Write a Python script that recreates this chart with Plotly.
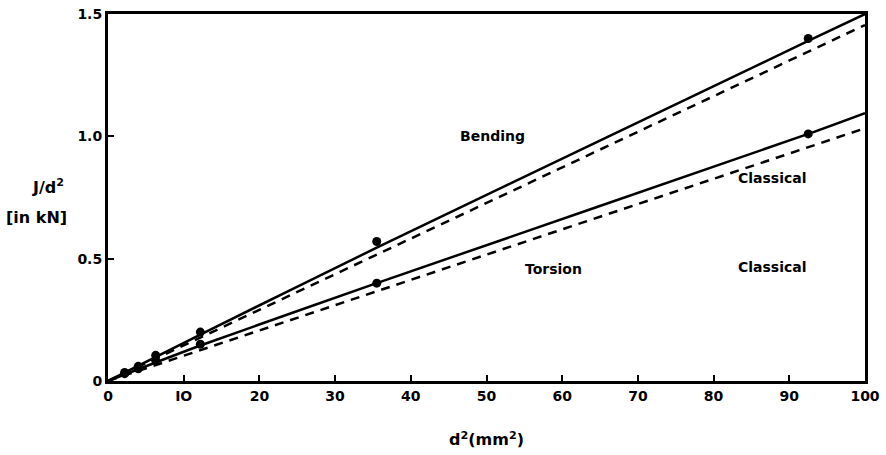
import plotly.graph_objects as go

# Measured points (d^2 in mm^2, J/d^2 in kN)
d2_points = [2.2, 4.0, 6.3, 12.2, 35.5, 92.5]
bending_pts = [0.035, 0.06, 0.105, 0.20, 0.57, 1.40]
torsion_pts = [0.03, 0.05, 0.085, 0.15, 0.40, 1.01]

# Fitted solid curves
fit_x = [0, 12.2, 35.5, 92.5, 100]
bending_fit = [0, 0.19, 0.545, 1.39, 1.50]
torsion_fit = [0, 0.145, 0.40, 1.01, 1.095]

# Classical (dashed) lines
classical_x = [0, 100]
bending_classical = [0, 1.455]
torsion_classical = [0, 1.033]

x_ticks = [0, 10, 20, 30, 40, 50, 60, 70, 80, 90, 100]
x_ticklabels = ["0", "IO", "20", "30", "40", "50", "60", "70", "80", "90", "100"]
y_ticks = [0, 0.5, 1.0, 1.5]
y_ticklabels = ["0", "0.5", "1.0", "1.5"]

FONT = "DejaVu Sans"
fig = go.Figure()

for y in (bending_fit, torsion_fit):
    fig.add_trace(go.Scatter(x=fit_x, y=y, mode="lines", line=dict(color="black", width=2.5, shape="spline", smoothing=0.6),
                             showlegend=False, hoverinfo="skip"))
for y in (bending_classical, torsion_classical):
    fig.add_trace(go.Scatter(x=classical_x, y=y, mode="lines", line=dict(color="black", width=2.5, dash="9px,7px"),
                             showlegend=False, hoverinfo="skip"))
for y in (bending_pts, torsion_pts):
    fig.add_trace(go.Scatter(x=d2_points, y=y, mode="markers", marker=dict(color="black", size=9),
                             showlegend=False))

ann_font = dict(family=FONT, size=14, color="black", weight="bold")
annotations = [
    dict(x=50.8, y=1.0, text="Bending"),
    dict(x=58.8, y=0.458, text="Torsion"),
    dict(x=87.8, y=0.828, text="Classical"),
    dict(x=87.8, y=0.465, text="Classical"),
]
for a in annotations:
    fig.add_annotation(x=a["x"], y=a["y"], text=a["text"], showarrow=False, font=ann_font,
                       xref="x", yref="y")

fig.add_annotation(x=-0.055, y=0.53, xref="paper", yref="paper", xanchor="right",
                   text="J/d<sup>2</sup>", showarrow=False,
                   font=dict(family=FONT, size=16, color="black", weight="bold"))
fig.add_annotation(x=-0.052, y=0.445, xref="paper", yref="paper", xanchor="right",
                   text="[in kN]", showarrow=False,
                   font=dict(family=FONT, size=16, color="black", weight="bold"))

fig.update_layout(
    width=886, height=455,
    margin=dict(l=108, r=21, t=14, b=74),
    plot_bgcolor="white", paper_bgcolor="white",
    font=dict(family=FONT, size=14, color="black"),
)
fig.update_xaxes(
    range=[0, 100], tickvals=x_ticks, ticktext=x_ticklabels,
    showgrid=False, zeroline=False, showline=True, linewidth=3, linecolor="black", mirror=True,
    ticks="inside", ticklen=6, tickwidth=2, tickcolor="black", automargin=False,
    title=dict(text="d<sup>2</sup>(mm<sup>2</sup>)", font=dict(family=FONT, size=16, weight="bold"), standoff=32),
    tickfont=dict(family=FONT, size=14, weight="bold"),
)
fig.update_yaxes(
    range=[0, 1.5], tickvals=y_ticks, ticktext=y_ticklabels,
    showgrid=False, zeroline=False, showline=True, linewidth=3, linecolor="black", mirror=True,
    ticks="inside", ticklen=6, tickwidth=2, tickcolor="black", automargin=False,
    tickfont=dict(family=FONT, size=14, weight="bold"),
)

fig.write_html("out.html", config={"displayModeBar": False},
               post_script="document.body.style.margin='0';")
